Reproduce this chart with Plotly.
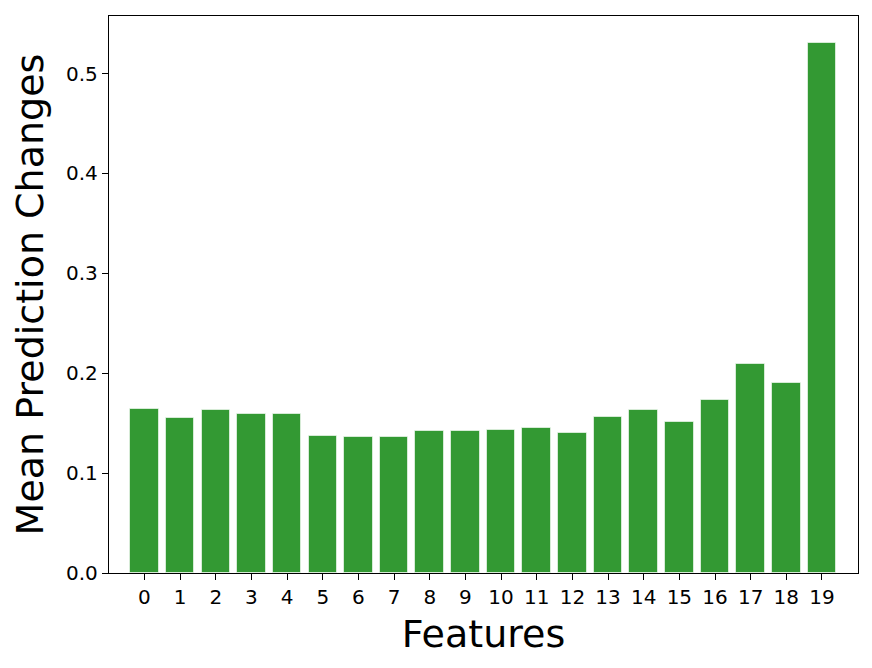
import plotly.graph_objects as go

features = list(range(20))
tick_labels = [str(i) for i in features]
mean_changes = [0.164, 0.155, 0.163, 0.159, 0.159, 0.137, 0.136, 0.136, 0.142, 0.142,
                0.143, 0.145, 0.140, 0.156, 0.163, 0.151, 0.173, 0.209, 0.190, 0.531]

fig = go.Figure(go.Bar(
    x=features, y=mean_changes, width=0.8,
    marker=dict(color="rgba(0,128,0,0.8)", line=dict(color="rgba(255,255,255,0.6)", width=1)),
))

font_family = "DejaVu Sans"
fig.update_layout(
    width=872, height=668,
    margin=dict(l=101, r=22, t=8, b=103),
    plot_bgcolor="white", paper_bgcolor="white",
    font=dict(family=font_family, color="black"),
    showlegend=False,
    bargap=0,
)
fig.update_xaxes(
    range=[-0.995, 20.01], tickmode="array", tickvals=features, ticktext=tick_labels,
    ticks="outside", ticklen=6, tickwidth=1.3, tickcolor="black",
    tickfont=dict(size=20), showgrid=False, zeroline=False, automargin=False,
    showline=True, linecolor="black", linewidth=1.3, mirror=True,
    title=dict(text="Features", font=dict(size=38), standoff=12),
)
fig.update_yaxes(
    range=[0, 0.5576], tickmode="array", tickvals=[0, 0.1, 0.2, 0.3, 0.4, 0.5],
    ticktext=["0.0", "0.1", "0.2", "0.3", "0.4", "0.5"],
    ticks="outside", ticklen=6, tickwidth=1.3, tickcolor="black",
    tickfont=dict(size=20), showgrid=False, zeroline=False, automargin=False,
    showline=True, linecolor="black", linewidth=1.3, mirror=True,
    title=dict(text="Mean Prediction Changes", font=dict(size=38), standoff=10),
)

fig.write_html("out.html")
